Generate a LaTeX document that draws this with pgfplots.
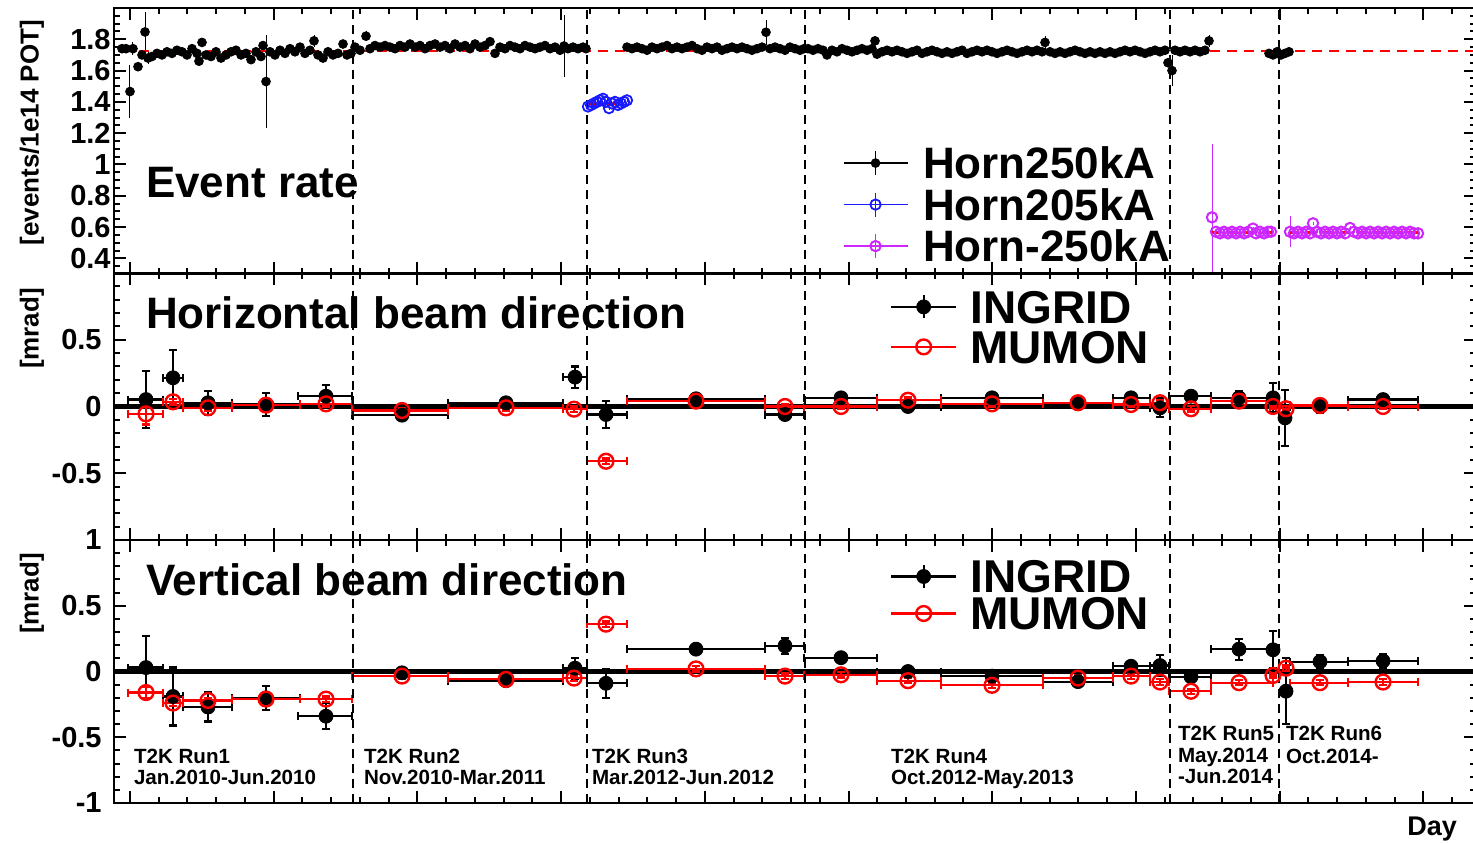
\documentclass[border=0pt]{standalone}
\usepackage{fontspec}
\setmainfont{Liberation Sans}
\usepackage{pgfplots}
\usepackage{pgfplotstable}
\pgfplotsset{compat=1.18}

\definecolor{hornblue}{RGB}{25,25,255}
\definecolor{hornmag}{RGB}{204,40,255}

% Horn250kA event rate
\pgfplotstableread{
x y e
122 1.74 0.03
126 1.74 0.02
130 1.466 0.17
133 1.74 0.04
138 1.625 0.03
142 1.70 0.02
145 1.847 0.13
148 1.68 0.04
152 1.69 0.02
157 1.71 0.02
162 1.70 0.02
167 1.72 0.02
172 1.71 0.02
177 1.73 0.02
182 1.72 0.02
187 1.70 0.02
192 1.74 0.02
197 1.71 0.02
199 1.66 0.02
202 1.78 0.03
206 1.70 0.02
211 1.69 0.02
216 1.72 0.02
221 1.68 0.02
226 1.70 0.02
231 1.72 0.02
236 1.73 0.02
241 1.70 0.02
246 1.71 0.02
251 1.67 0.02
256 1.72 0.02
261 1.69 0.02
263 1.76 0.02
266 1.53 0.30
270 1.72 0.02
275 1.70 0.02
280 1.73 0.02
285 1.71 0.02
290 1.74 0.02
295 1.72 0.02
300 1.75 0.02
305 1.71 0.02
310 1.73 0.02
314 1.79 0.04
318 1.70 0.02
323 1.68 0.02
328 1.72 0.02
333 1.70 0.02
338 1.71 0.02
343 1.77 0.02
347 1.70 0.02
351 1.71 0.02
355 1.75 0.02
360 1.73 0.02
366 1.82 0.03
370 1.74 0.02
375 1.76 0.02
380 1.75 0.02
385 1.76 0.02
390 1.75 0.02
395 1.74 0.02
400 1.76 0.02
405 1.75 0.02
410 1.77 0.02
415 1.75 0.02
420 1.76 0.02
425 1.74 0.02
430 1.76 0.02
435 1.77 0.02
440 1.75 0.02
445 1.76 0.02
450 1.74 0.02
455 1.77 0.02
460 1.75 0.02
465 1.76 0.02
470 1.74 0.02
475 1.77 0.02
480 1.75 0.02
485 1.76 0.02
490 1.785 0.02
495 1.71 0.02
500 1.75 0.02
505 1.74 0.02
510 1.76 0.02
515 1.75 0.02
520 1.74 0.02
525 1.76 0.02
530 1.75 0.02
535 1.74 0.02
540 1.75 0.02
545 1.76 0.02
550 1.74 0.02
555 1.75 0.02
560 1.73 0.02
564 1.757 0.20
568 1.74 0.02
573 1.75 0.02
578 1.74 0.02
583 1.75 0.02
586 1.74 0.02
627 1.75 0.02
632 1.74 0.02
637 1.75 0.02
642 1.74 0.02
647 1.73 0.02
652 1.75 0.02
657 1.74 0.02
662 1.75 0.02
667 1.76 0.02
672 1.74 0.02
677 1.75 0.02
682 1.74 0.02
687 1.75 0.02
692 1.76 0.02
697 1.74 0.02
702 1.73 0.02
707 1.75 0.02
712 1.74 0.02
717 1.75 0.02
722 1.73 0.02
727 1.74 0.02
732 1.75 0.02
737 1.74 0.02
742 1.75 0.02
747 1.74 0.02
752 1.73 0.02
757 1.74 0.02
762 1.75 0.02
766 1.845 0.08
770 1.74 0.02
775 1.75 0.02
780 1.74 0.02
785 1.73 0.02
790 1.75 0.02
795 1.74 0.02
800 1.73 0.02
804 1.74 0.02
808 1.74 0.02
813 1.73 0.02
818 1.74 0.02
823 1.73 0.02
827 1.70 0.02
832 1.73 0.02
837 1.72 0.02
842 1.74 0.02
847 1.73 0.02
852 1.72 0.02
857 1.73 0.02
862 1.74 0.02
867 1.73 0.02
872 1.74 0.02
875 1.79 0.02
877 1.705 0.03
882 1.72 0.02
887 1.73 0.02
892 1.72 0.02
897 1.73 0.02
902 1.72 0.02
907 1.71 0.02
912 1.72 0.02
917 1.73 0.02
922 1.71 0.02
927 1.72 0.02
932 1.73 0.02
937 1.72 0.02
942 1.71 0.02
947 1.72 0.02
952 1.71 0.02
957 1.72 0.02
962 1.73 0.02
967 1.71 0.02
972 1.72 0.02
977 1.73 0.02
982 1.72 0.02
987 1.73 0.02
992 1.72 0.02
997 1.71 0.02
1002 1.72 0.02
1007 1.73 0.02
1012 1.72 0.02
1017 1.71 0.02
1022 1.72 0.02
1027 1.73 0.02
1032 1.72 0.02
1037 1.73 0.02
1042 1.72 0.02
1045 1.78 0.04
1050 1.72 0.02
1055 1.71 0.02
1060 1.72 0.02
1065 1.71 0.02
1070 1.72 0.02
1075 1.73 0.02
1080 1.72 0.02
1085 1.71 0.02
1090 1.72 0.02
1095 1.71 0.02
1100 1.72 0.02
1105 1.71 0.02
1110 1.72 0.02
1115 1.71 0.02
1120 1.72 0.02
1125 1.73 0.02
1130 1.72 0.02
1135 1.73 0.02
1140 1.72 0.02
1145 1.71 0.02
1150 1.72 0.02
1155 1.73 0.02
1160 1.72 0.02
1165 1.73 0.02
1168 1.65 0.03
1172 1.60 0.10
1175 1.73 0.02
1180 1.72 0.02
1185 1.73 0.02
1190 1.72 0.02
1195 1.73 0.02
1200 1.72 0.02
1205 1.73 0.02
1209 1.79 0.04
1269 1.71 0.02
1273 1.70 0.02
1277 1.72 0.02
1281 1.70 0.02
1285 1.71 0.02
1289 1.72 0.02
}\hornA

% Horn205kA
\pgfplotstableread{
x y e
588 1.37 0.01
591 1.38 0.01
594 1.39 0.01
597 1.40 0.01
600 1.41 0.01
603 1.42 0.01
606 1.40 0.01
609 1.36 0.01
612 1.39 0.01
615 1.40 0.01
618 1.38 0.01
621 1.39 0.01
624 1.40 0.01
627 1.41 0.01
}\hornB

% Horn-250kA
\pgfplotstableread{
x y e
1212 0.662 0.47
1216 0.57 0.01
1220 0.56 0.01
1224 0.57 0.01
1228 0.56 0.01
1232 0.57 0.01
1236 0.56 0.01
1240 0.57 0.01
1244 0.56 0.01
1248 0.57 0.01
1253 0.59 0.01
1256 0.56 0.01
1260 0.57 0.01
1264 0.56 0.01
1268 0.57 0.01
1271 0.57 0.01
1290 0.57 0.10
1294 0.56 0.01
1298 0.57 0.01
1302 0.56 0.01
1306 0.57 0.01
1310 0.56 0.01
1313 0.624 0.01
1317 0.57 0.01
1321 0.56 0.01
1325 0.57 0.01
1329 0.56 0.01
1333 0.57 0.01
1337 0.56 0.01
1341 0.57 0.01
1345 0.56 0.01
1350 0.594 0.01
1354 0.57 0.01
1358 0.56 0.01
1362 0.57 0.01
1366 0.56 0.01
1370 0.57 0.01
1374 0.56 0.01
1378 0.57 0.01
1382 0.56 0.01
1386 0.57 0.01
1390 0.56 0.01
1394 0.57 0.01
1398 0.56 0.01
1402 0.57 0.01
1406 0.56 0.01
1410 0.57 0.01
1414 0.56 0.01
1418 0.56 0.01
}\hornC

% Horizontal: INGRID
\pgfplotstableread{
x y xm xp ey
146 0.052 18 17 0.215
173 0.215 10 10 0.21
208 0.028 25 24 0.09
266 0.015 34 34 0.085
326 0.077 28 26 0.085
402 -0.065 50 46 0.03
506 0.028 58 57 0.02
575 0.22 12 12 0.08
606 -0.06 19 21 0.10
696 0.058 69 69 0.02
785 -0.06 20 19 0.04
841 0.065 37 36 0.02
908 0.0 31 33 0.02
992 0.065 51 51 0.02
1078 0.028 35 35 0.02
1131 0.065 18 19 0.025
1160 -0.01 10 9 0.07
1191 0.077 22 20 0.025
1239 0.065 28 34 0.05
1273 0.065 4 4 0.11
1285 -0.085 3 3 0.21
1320 0.0 30 28 0.05
1383 0.052 35 35 0.04
}\hIngrid

% Horizontal: MUMON
\pgfplotstableread{
x y xm xp ey
146 -0.055 18 17 0.08
173 0.035 10 10 0.02
208 -0.01 25 24 0.02
266 0.01 34 34 0.02
326 0.02 26 26 0.02
402 -0.03 50 46 0.02
506 -0.01 58 57 0.02
574 -0.02 11 13 0.02
606 -0.41 19 21 0.02
696 0.04 69 69 0.02
785 0.0 20 19 0.02
841 0.0 37 36 0.02
908 0.047 31 33 0.02
992 0.02 51 51 0.02
1078 0.028 35 35 0.02
1131 0.015 18 19 0.02
1160 0.028 10 9 0.02
1191 -0.017 22 20 0.02
1239 0.04 28 34 0.02
1273 0.0 3 3 0.02
1286 -0.017 3 3 0.02
1320 0.008 30 28 0.02
1383 0.0 35 35 0.02
}\hMumon

% Vertical: INGRID
\pgfplotstableread{
x y xm xp ey
146 0.03 18 17 0.24
173 -0.19 10 10 0.22
208 -0.27 25 24 0.11
266 -0.20 34 34 0.09
326 -0.34 28 26 0.10
402 -0.01 50 46 0.03
506 -0.07 58 57 0.02
575 0.025 12 12 0.08
606 -0.09 19 21 0.11
696 0.17 69 69 0.02
785 0.195 20 19 0.06
841 0.105 37 36 0.02
908 0.0 31 33 0.02
992 -0.035 51 51 0.02
1078 -0.077 35 35 0.02
1131 0.04 18 19 0.02
1160 0.045 10 9 0.08
1191 -0.04 22 20 0.04
1239 0.17 28 34 0.08
1273 0.165 4 4 0.14
1286 -0.15 3 3 0.25
1320 0.075 30 28 0.05
1383 0.08 35 35 0.05
}\vIngrid

% Vertical: MUMON
\pgfplotstableread{
x y xm xp ey
146 -0.16 18 17 0.04
173 -0.24 10 10 0.02
208 -0.22 25 24 0.02
266 -0.21 34 34 0.02
326 -0.21 26 26 0.02
402 -0.035 50 46 0.02
506 -0.06 58 57 0.02
574 -0.05 11 13 0.02
606 0.36 19 21 0.02
696 0.02 69 69 0.02
785 -0.035 20 19 0.02
841 -0.025 37 36 0.02
908 -0.07 31 33 0.02
992 -0.105 51 51 0.02
1078 -0.05 35 35 0.02
1131 -0.035 18 19 0.02
1160 -0.08 10 9 0.02
1191 -0.15 22 20 0.02
1239 -0.085 28 34 0.02
1273 -0.03 3 3 0.02
1286 0.025 3 3 0.02
1320 -0.085 30 28 0.02
1383 -0.08 35 35 0.02
}\vMumon

\pgfplotsset{
  panel/.style={
    scale only axis, width=681pt, xmin=114, xmax=1476,
    axis line style={line width=1.3pt},
    xtick={130,273.7,417.4,561.1,704.8,848.5,992.2,1135.9,1279.6,1423.3},
    xticklabels={},
    minor xtick={130,158.74,...,1480},
    tick align=inside, major tick length=6pt, minor tick length=3pt,
    tick style={black, line width=1pt},
    yticklabel style={font=\fontsize{14.5}{14.5}\selectfont\bfseries, anchor=east, inner sep=0pt},
    legend cell align=left,
  },
  ingrid/.style={only marks, mark=*, black, mark size=3.5pt,
    error bars/.cd, x dir=both, x explicit, y dir=both, y explicit,
    error bar style={black, line width=1.1pt},
    error mark options={rotate=90, black, mark size=2pt, line width=1.1pt}},
  mumon/.style={only marks, mark=o, red, mark size=3.7pt, mark options={line width=1.2pt},
    error bars/.cd, x dir=both, x explicit, y dir=both, y explicit,
    error bar style={red, line width=1.1pt},
    error mark options={rotate=90, red, mark size=2pt, line width=1.1pt}},
  vdash/.style={forget plot, black, line width=1.1pt, dash pattern=on 4.5pt off 3pt},
  rdash/.style={forget plot, red, line width=1.4pt, dash pattern=on 5pt off 3.5pt},
}

\begin{document}
\begin{tikzpicture}
\useasboundingbox (0pt,0pt) rectangle (736.5pt,421pt);

% ---------- Top panel: event rate ----------
\begin{axis}[panel, at={(57pt,284pt)}, anchor=south west, height=133pt,
  ymin=0.3, ymax=2.0,
  ytick={0.4,0.6,0.8,1,1.2,1.4,1.6,1.8},
  yticklabels={0.4,0.6,0.8,1,1.2,1.4,1.6,1.8},
  minor ytick={0.3,0.35,...,2.01},
  yticklabel style={xshift=-1.5pt},
  legend style={at={(0.5352,0.495)}, anchor=north west, draw=none, fill=none,
    inner sep=0pt, outer sep=0pt, row sep=0pt, column sep=7.5pt,
    font=\fontsize{22}{22}\selectfont\bfseries,
    nodes={inner sep=0pt, text height=18.25pt, text depth=2.5pt}},
]
\addplot[forget plot, only marks, mark=*, black, mark size=2.2pt,
  error bars/.cd, y dir=both, y explicit, error bar style={black, line width=0.5pt}, error mark=none]
  table[x=x, y=y, y error=e] {\hornA};
\addplot[forget plot, only marks, mark=o, hornblue, mark size=2.6pt, mark options={line width=0.9pt},
  error bars/.cd, y dir=both, y explicit, error bar style={hornblue, line width=0.5pt}, error mark=none]
  table[x=x, y=y, y error=e] {\hornB};
\addplot[forget plot, only marks, mark=o, hornmag, mark size=2.6pt, mark options={line width=1pt},
  error bars/.cd, y dir=both, y explicit, error bar style={hornmag, line width=0.5pt}, error mark=none]
  table[x=x, y=y, y error=e] {\hornC};
\addplot[rdash] coordinates {(122,1.725) (1476,1.725)};
\addplot[rdash] coordinates {(589,1.39) (618,1.39)};
\addplot[rdash] coordinates {(1211,0.565) (1273,0.565)};
\addplot[rdash] coordinates {(1289,0.565) (1420,0.565)};
\pgfplotsinvokeforeach{353,587,805,1170,1279}{
  \addplot[vdash] coordinates {(#1,0.3) (#1,2.0)};
}
\addlegendimage{legend image code/.code={
  \draw[black, line width=0.6pt] (0pt,0pt) -- (32pt,0pt);
  \draw[black, line width=0.6pt] (16pt,-6pt) -- (16pt,6pt);
  \draw[black] plot[mark=*, mark size=2.2pt] coordinates {(16pt,0pt)};}}
\addlegendentry{Horn250kA}
\addlegendimage{legend image code/.code={
  \draw[hornblue, line width=0.6pt] (0pt,0pt) -- (32pt,0pt);
  \draw[hornblue, line width=0.6pt] (16pt,-6pt) -- (16pt,6pt);
  \draw[hornblue, line width=0.9pt] plot[mark=o, mark size=2.6pt] coordinates {(16pt,0pt)};}}
\addlegendentry{Horn205kA}
\addlegendimage{legend image code/.code={
  \draw[hornmag, line width=0.6pt] (0pt,0pt) -- (32pt,0pt);
  \draw[hornmag, line width=0.6pt] (16pt,-6pt) -- (16pt,6pt);
  \draw[hornmag, line width=1pt] plot[mark=o, mark size=2.6pt] coordinates {(16pt,0pt)};}}
\addlegendentry{Horn-250kA}
\end{axis}

% ---------- Middle panel: horizontal direction ----------
\begin{axis}[panel, at={(57pt,151pt)}, anchor=south west, height=133.5pt,
  ymin=-1, ymax=1,
  ytick={-1,-0.5,0,0.5,1}, yticklabels={,-0.5,0,0.5,},
  minor ytick={-1,-0.9,...,1.01},
  yticklabel style={xshift=-6pt},
  legend style={at={(0.5698,0.948)}, anchor=north west, draw=none, fill=none,
    inner sep=0pt, outer sep=0pt, row sep=0pt, column sep=6.5pt,
    font=\fontsize{23}{23}\selectfont\bfseries,
    nodes={inner sep=0pt, text height=18.25pt, text depth=1.75pt}},
]
\addplot[forget plot, black, line width=2.2pt] coordinates {(114,0) (1476,0)};
\addplot[forget plot, ingrid] table[x=x, y=y, x error minus=xm, x error plus=xp, y error=ey] {\hIngrid};
\addplot[forget plot, mumon] table[x=x, y=y, x error minus=xm, x error plus=xp, y error=ey] {\hMumon};
\pgfplotsinvokeforeach{353,587,805,1170,1279}{
  \addplot[vdash] coordinates {(#1,-1) (#1,1)};
}
\addlegendimage{legend image code/.code={
  \draw[black, line width=1.1pt] (0pt,0pt) -- (32.5pt,0pt);
  \draw[black, line width=1.1pt] (16.25pt,-5.75pt) -- (16.25pt,5.75pt);
  \draw[black] plot[mark=*, mark size=3.5pt] coordinates {(16.25pt,0pt)};}}
\addlegendentry{INGRID}
\addlegendimage{legend image code/.code={
  \draw[red, line width=1.1pt] (0pt,0pt) -- (32.5pt,0pt);
  \draw[red, line width=1.2pt] plot[mark=o, mark size=3.7pt] coordinates {(16.25pt,0pt)};}}
\addlegendentry{MUMON}
\end{axis}

% ---------- Bottom panel: vertical direction ----------
\begin{axis}[panel, at={(57pt,19.5pt)}, anchor=south west, height=131.5pt,
  ymin=-1, ymax=1,
  ytick={-1,-0.5,0,0.5,1}, yticklabels={-1,-0.5,0,0.5,1},
  minor ytick={-1,-0.9,...,1.01},
  yticklabel style={xshift=-6pt},
  legend style={at={(0.5698,0.9316)}, anchor=north west, draw=none, fill=none,
    inner sep=0pt, outer sep=0pt, row sep=0pt, column sep=6.5pt,
    font=\fontsize{23}{23}\selectfont\bfseries,
    nodes={inner sep=0pt, text height=17.5pt, text depth=1pt}},
]
\addplot[forget plot, black, line width=2.2pt] coordinates {(114,0) (1476,0)};
\addplot[forget plot, ingrid] table[x=x, y=y, x error minus=xm, x error plus=xp, y error=ey] {\vIngrid};
\addplot[forget plot, mumon] table[x=x, y=y, x error minus=xm, x error plus=xp, y error=ey] {\vMumon};
\pgfplotsinvokeforeach{353,587,805,1170,1279}{
  \addplot[vdash] coordinates {(#1,-1) (#1,1)};
}
\addlegendimage{legend image code/.code={
  \draw[black, line width=1.1pt] (0pt,0pt) -- (32.5pt,0pt);
  \draw[black, line width=1.1pt] (16.25pt,-5.75pt) -- (16.25pt,5.75pt);
  \draw[black] plot[mark=*, mark size=3.5pt] coordinates {(16.25pt,0pt)};}}
\addlegendentry{INGRID}
\addlegendimage{legend image code/.code={
  \draw[red, line width=1.1pt] (0pt,0pt) -- (32.5pt,0pt);
  \draw[red, line width=1.2pt] plot[mark=o, mark size=3.7pt] coordinates {(16.25pt,0pt)};}}
\addlegendentry{MUMON}
\end{axis}

% ---------- Texts ----------
\begin{scope}[every node/.style={inner sep=0pt, outer sep=0pt}]
\node[rotate=90, anchor=east, font=\fontsize{13}{13}\selectfont\bfseries] at (16pt,411pt) {[events/1e14 POT]};
\node[rotate=90, anchor=east, font=\fontsize{13}{13}\selectfont\bfseries] at (16pt,277pt) {[mrad]};
\node[rotate=90, anchor=east, font=\fontsize{13}{13}\selectfont\bfseries] at (16pt,144.5pt) {[mrad]};

\node[anchor=base west, font=\fontsize{22}{22}\selectfont\bfseries] at (73pt,322pt) {Event rate};
\node[anchor=base west, font=\fontsize{22}{22}\selectfont\bfseries] at (73pt,256.5pt) {Horizontal beam direction};
\node[anchor=base west, font=\fontsize{22}{22}\selectfont\bfseries] at (73pt,123.5pt) {Vertical beam direction};

\node[anchor=base east, font=\fontsize{13.5}{13.5}\selectfont\bfseries] at (728.5pt,3.5pt) {Day};

\begin{scope}[every node/.append style={anchor=base west, font=\fontsize{10.3}{10.3}\selectfont\bfseries}]
\node at (67pt,39.5pt) {T2K Run1};
\node at (67pt,29pt) {Jan.2010-Jun.2010};
\node at (182pt,39.5pt) {T2K Run2};
\node at (182pt,29pt) {Nov.2010-Mar.2011};
\node at (296pt,39.5pt) {T2K Run3};
\node at (296pt,29pt) {Mar.2012-Jun.2012};
\node at (445.5pt,39.5pt) {T2K Run4};
\node at (445.5pt,29pt) {Oct.2012-May.2013};
\node at (589pt,51pt) {T2K Run5};
\node at (589pt,40pt) {May.2014};
\node at (589pt,29.5pt) {-Jun.2014};
\node at (643pt,51pt) {T2K Run6};
\node at (643pt,39.5pt) {Oct.2014-};
\end{scope}
\end{scope}
\end{tikzpicture}
\end{document}
